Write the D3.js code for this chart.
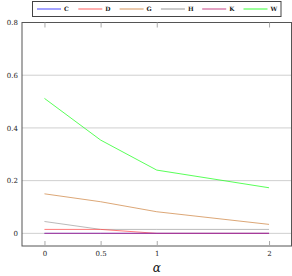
<!DOCTYPE html>
<html><head><meta charset="utf-8">
<script src="https://cdn.jsdelivr.net/npm/d3@7"></script>
<style>body{margin:0;background:#fff}svg{display:block}</style>
</head><body>
<script>
const alphas = [0, 0.5, 1, 2];
const seriesNames = ["C", "D", "G", "H", "K", "W"];
const C = [0, 0, 0, 0];
const D = [0.015, 0.015, 0, 0];
const G = [0.150, 0.120, 0.082, 0.034];
const H = [0.045, 0.015, 0.015, 0.015];
const K = [0, 0, 0, 0];
const W = [0.512, 0.354, 0.240, 0.173];
const xTicks = [0, 0.5, 1, 2];
const yTicks = [0, 0.2, 0.4, 0.6, 0.8];
const colors = {C:"#3333ff", D:"#ff4d4d", G:"#d08a4a", H:"#8c8c8c", K:"#c0307a", W:"#22ff22"};
const values = {C, D, G, H, K, W};

const width = 292, height = 276;
const svg = d3.select("body").append("svg").attr("width", width).attr("height", height);
const x = d3.scaleLinear().domain([-0.2, 2.2]).range([22, 291.5]);
const y = d3.scaleLinear().domain([-0.048, 0.8]).range([246, 22.5]);
const font = "'DejaVu Serif', 'Liberation Serif', serif";

// grid
svg.append("g").selectAll("line").data(yTicks.slice(0, 4)).join("line")
  .attr("x1", x.range()[0]).attr("x2", x.range()[1])
  .attr("y1", d => y(d)).attr("y2", d => y(d))
  .attr("stroke", "#cfcfcf").attr("stroke-width", 1);

// lines
const line = d3.line().x((d, i) => x(alphas[i])).y(d => y(d));
const order = ["H", "G", "W", "D", "C", "K"];
order.forEach(n => {
  svg.append("path").datum(values[n]).attr("d", line)
    .attr("fill", "none").attr("stroke", colors[n]).attr("stroke-width", 1)
    .attr("stroke-opacity", n === "H" ? 0.6 : 0.75);
});

// frame
svg.append("rect").attr("x", x.range()[0]).attr("y", y.range()[1])
  .attr("width", x.range()[1] - x.range()[0]).attr("height", y.range()[0] - y.range()[1])
  .attr("fill", "none").attr("stroke", "#555").attr("stroke-width", 1);

// x ticks (inward, top and bottom)
const xb = d3.axisBottom(x).tickValues(xTicks).tickSize(-5).tickFormat(d3.format("~g"));
const gx = svg.append("g").attr("transform", `translate(0,${y.range()[0]})`).call(xb);
gx.select(".domain").remove();
gx.selectAll(".tick line").attr("stroke", "#aaa");
gx.selectAll(".tick text").attr("dy", "0.71em").attr("y", 5)
  .attr("font-family", font).attr("font-size", 7).attr("fill", "#222");
const xt = d3.axisTop(x).tickValues(xTicks).tickSize(-5).tickFormat("");
const gxt = svg.append("g").attr("transform", `translate(0,${y.range()[1]})`).call(xt);
gxt.select(".domain").remove();
gxt.selectAll(".tick line").attr("stroke", "#aaa");

// y labels
const ya = d3.axisLeft(y).tickValues(yTicks).tickSize(0).tickFormat(d3.format("~g"));
const gy = svg.append("g").attr("transform", `translate(${x.range()[0]},0)`).call(ya);
gy.select(".domain").remove();
gy.selectAll(".tick text").attr("x", -4)
  .attr("font-family", font).attr("font-size", 7).attr("fill", "#222");

// x axis label
svg.append("text").attr("x", x(1)).attr("y", 272).attr("text-anchor", "middle")
  .attr("font-family", font).attr("font-style", "italic").attr("font-size", 12).attr("fill", "#111")
  .text("α");

// legend
svg.append("rect").attr("x", 32.5).attr("y", 1.5).attr("width", 248.5).attr("height", 15)
  .attr("fill", "#fff").attr("stroke", "#444").attr("stroke-width", 1);
const lx = d3.scalePoint().domain(seriesNames).range([37, 243.5]);
const lg = svg.append("g").selectAll("g").data(seriesNames).join("g")
  .attr("transform", d => `translate(${lx(d)},9)`);
lg.append("line").attr("x1", 0).attr("x2", 24).attr("y1", 0).attr("y2", 0)
  .attr("stroke", d => colors[d]).attr("stroke-width", 2).attr("stroke-opacity", 0.45);
lg.append("text").attr("x", 27).attr("y", 2.2).attr("font-family", font)
  .attr("font-size", 6).attr("font-weight", "bold").attr("fill", "#222").text(d => d);
</script>
</body></html>
